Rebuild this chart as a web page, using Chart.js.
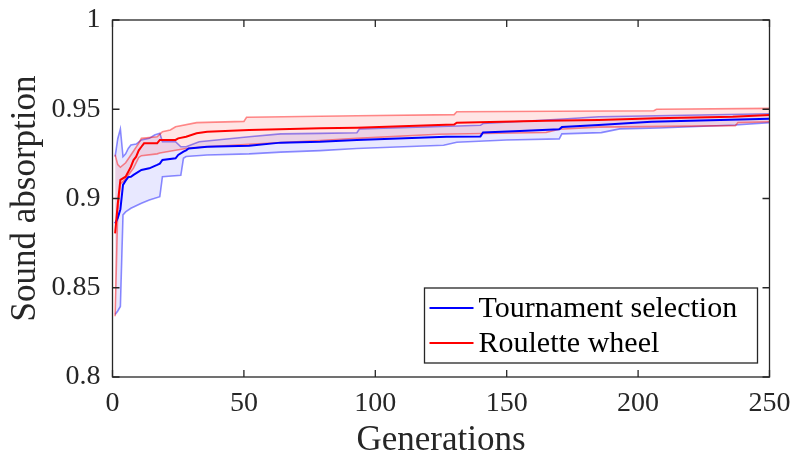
<!DOCTYPE html>
<html>
<head>
<meta charset="utf-8">
<script src="https://cdn.jsdelivr.net/npm/chart.js@4.4.1/dist/chart.umd.min.js"></script>
<style>
  html, body { margin: 0; padding: 0; background: #fff; }
  #wrap { width: 793px; height: 456px; position: relative; }
</style>
</head>
<body>
<div id="wrap"><canvas id="gaChart"></canvas></div>
<script>
// Tournament selection: mean best fitness and its band
const tsGen  = [1, 2, 3, 4, 5, 6, 7, 8, 11, 14, 17, 18, 19, 24, 25, 27, 28, 29, 36, 52, 64, 79, 93, 127, 140, 141, 155, 170, 171, 185, 205, 250];
const tsMean = [0.886, 0.889, 0.894, 0.9076, 0.910, 0.912, 0.9122, 0.9132, 0.916, 0.9169, 0.9188, 0.9195, 0.9216, 0.9225, 0.9244, 0.9262, 0.927, 0.928, 0.929, 0.9296, 0.9313, 0.9318, 0.9328, 0.9346, 0.9348, 0.937, 0.9378, 0.9388, 0.940, 0.9412, 0.943, 0.9447];

const tsUpGen = [1, 2, 3, 4, 5, 6, 7, 9, 11, 14, 16, 18, 19, 24, 26, 28, 33, 52, 64, 79, 93, 94, 128, 140, 141, 170, 185, 250];
const tsUp    = [0.9235, 0.9335, 0.939, 0.9234, 0.925, 0.928, 0.930, 0.9305, 0.9328, 0.9337, 0.9356, 0.9365, 0.9318, 0.9318, 0.929, 0.929, 0.9318, 0.9346, 0.9362, 0.9365, 0.9368, 0.939, 0.9405, 0.941, 0.942, 0.9444, 0.9458, 0.9475];

const tsLoGen = [1, 2, 3, 4, 5, 7, 11, 14, 18, 19, 26, 27, 28, 36, 52, 64, 79, 93, 126, 131, 150, 170, 171, 186, 193, 208, 237, 250];
const tsLo    = [0.835, 0.837, 0.8395, 0.8908, 0.8925, 0.8945, 0.8973, 0.8992, 0.901, 0.9122, 0.913, 0.9225, 0.9235, 0.9244, 0.925, 0.926, 0.9268, 0.928, 0.9298, 0.9315, 0.9328, 0.9334, 0.9362, 0.9369, 0.939, 0.9395, 0.9412, 0.9425];

// Roulette wheel: mean best fitness and its band
const rwGen  = [1, 2, 3, 5, 6, 7, 8, 9, 10, 11, 12, 17, 18, 24, 25, 28, 32, 36, 52, 79, 93, 124, 130, 131, 165, 185, 207, 236, 250];
const rwMean = [0.8805, 0.897, 0.9104, 0.9122, 0.915, 0.9178, 0.9215, 0.9234, 0.927, 0.929, 0.9309, 0.9309, 0.9328, 0.9328, 0.9337, 0.9346, 0.9365, 0.9374, 0.9384, 0.9393, 0.9397, 0.9412, 0.9414, 0.9425, 0.9436, 0.944, 0.9449, 0.9458, 0.9468];

const rwUpGen = [1, 2, 3, 5, 7, 10, 11, 17, 19, 22, 24, 32, 50, 51, 93, 130, 131, 206, 207, 250];
const rwUp    = [0.9245, 0.919, 0.9175, 0.920, 0.9244, 0.931, 0.9337, 0.9346, 0.9374, 0.9384, 0.9402, 0.9425, 0.9432, 0.9455, 0.9464, 0.947, 0.9486, 0.9492, 0.950, 0.9505];

const rwLoGen = [1, 2, 3, 5, 6, 8, 10, 11, 17, 18, 24, 28, 36, 52, 79, 93, 124, 165, 170, 185, 237, 238, 250];
const rwLo    = [0.834, 0.893, 0.908, 0.911, 0.913, 0.917, 0.923, 0.924, 0.925, 0.9255, 0.927, 0.928, 0.929, 0.9304, 0.9324, 0.9337, 0.936, 0.937, 0.9388, 0.940, 0.9408, 0.9425, 0.943];

const xTicks = [0, 50, 100, 150, 200, 250];
const yTicks = [0.8, 0.85, 0.9, 0.95, 1];
const yTickLabels = ['0.8', '0.85', '0.9', '0.95', '1'];
const seriesNames = ['Tournament selection', 'Roulette wheel'];

const AXIS = 'rgb(38,38,38)';
const FONT = "'Liberation Serif', 'Times New Roman', serif";
const TICK = 7;

function pts(xs, ys) {
  return xs.map((x, i) => ({ x: x, y: ys[i] }));
}

// inward ticks on all four sides plus the box
const framePlugin = {
  id: 'frame',
  afterDatasetsDraw(chart) {
    const { ctx, chartArea: a } = chart;
    const sx = chart.scales.x, sy = chart.scales.y;
    ctx.save();
    ctx.strokeStyle = AXIS;
    ctx.lineWidth = 1.3;
    ctx.beginPath();
    xTicks.forEach(v => {
      const px = sx.getPixelForValue(v);
      ctx.moveTo(px, a.bottom); ctx.lineTo(px, a.bottom - TICK);
      ctx.moveTo(px, a.top); ctx.lineTo(px, a.top + TICK);
    });
    yTicks.forEach(v => {
      const py = sy.getPixelForValue(v);
      ctx.moveTo(a.left, py); ctx.lineTo(a.left + TICK, py);
      ctx.moveTo(a.right, py); ctx.lineTo(a.right - TICK, py);
    });
    ctx.stroke();
    ctx.strokeRect(a.left, a.top, a.right - a.left, a.bottom - a.top);
    ctx.restore();
  }
};

// boxed legend in the lower right corner of the axes
const legendBox = {
  id: 'legendBox',
  afterDraw(chart) {
    const { ctx, chartArea: a } = chart;
    const w = 333, h = 75;
    const x0 = a.right - 12 - w, y0 = a.bottom - 14 - h;
    ctx.save();
    ctx.fillStyle = '#fff';
    ctx.fillRect(x0, y0, w, h);
    ctx.strokeStyle = AXIS;
    ctx.lineWidth = 1.3;
    ctx.strokeRect(x0, y0, w, h);
    ctx.font = '30px ' + FONT;
    ctx.textBaseline = 'middle';
    ctx.fillStyle = 'rgb(0,0,0)';
    [0, 1].forEach(i => {
      const ds = chart.data.datasets[i];
      const cy = y0 + 20 + i * 35;
      ctx.strokeStyle = ds.borderColor;
      ctx.lineWidth = 2;
      ctx.beginPath();
      ctx.moveTo(x0 + 5, cy);
      ctx.lineTo(x0 + 49, cy);
      ctx.stroke();
      ctx.fillText(ds.label, x0 + 54, cy + 1);
    });
    ctx.restore();
  }
};

const lineBase = { pointRadius: 0, tension: 0, fill: false };

new Chart(document.getElementById('gaChart'), {
  type: 'line',
  data: {
    datasets: [
      { ...lineBase, label: seriesNames[0], data: pts(tsGen, tsMean), borderColor: 'rgb(0,0,255)', borderWidth: 2, order: 1 },
      { ...lineBase, label: seriesNames[1], data: pts(rwGen, rwMean), borderColor: 'rgb(255,0,0)', borderWidth: 2, order: 0 },
      { ...lineBase, label: 'ts upper', data: pts(tsUpGen, tsUp), borderColor: 'rgba(0,0,255,0.45)', borderWidth: 1.6,
        fill: { target: 3 }, backgroundColor: 'rgba(0,0,255,0.09)', order: 3 },
      { ...lineBase, label: 'ts lower', data: pts(tsLoGen, tsLo), borderColor: 'rgba(0,0,255,0.45)', borderWidth: 1.6, order: 3 },
      { ...lineBase, label: 'rw upper', data: pts(rwUpGen, rwUp), borderColor: 'rgba(255,0,0,0.45)', borderWidth: 1.6,
        fill: { target: 5 }, backgroundColor: 'rgba(255,0,0,0.1)', order: 2 },
      { ...lineBase, label: 'rw lower', data: pts(rwLoGen, rwLo), borderColor: 'rgba(255,0,0,0.45)', borderWidth: 1.6, order: 2 }
    ]
  },
  options: {
    responsive: true,
    maintainAspectRatio: false,
    devicePixelRatio: 1,
    animation: false,
    layout: { padding: { top: 20, right: 23.5, left: 0, bottom: 0 } },
    plugins: {
      legend: { display: false },
      tooltip: { enabled: false }
    },
    scales: {
      x: {
        type: 'linear',
        min: 0,
        max: 250,
        afterFit(scale) {
          scale.height = 79;
          scale.paddingLeft = 0;
          scale.paddingRight = 0;
        },
        afterBuildTicks(scale) { scale.ticks = xTicks.map(v => ({ value: v })); },
        grid: { display: false, drawTicks: false },
        border: { display: false },
        ticks: { color: AXIS, padding: 10, font: { family: FONT, size: 28 } },
        title: { display: true, text: 'Generations', color: AXIS, padding: { top: 0, bottom: -6 }, font: { family: FONT, size: 35 } }
      },
      y: {
        min: 0.8,
        max: 1,
        afterFit(scale) {
          scale.width = 112.5;
          scale.paddingTop = 0;
          scale.paddingBottom = 0;
        },
        afterBuildTicks(scale) { scale.ticks = yTicks.map(v => ({ value: v })); },
        grid: { display: false, drawTicks: false },
        border: { display: false },
        ticks: {
          color: AXIS, padding: 12, font: { family: FONT, size: 28 },
          callback: (value, i) => yTickLabels[i]
        },
        title: { display: true, text: 'Sound absorption', color: AXIS, padding: { top: 5, bottom: 0 }, font: { family: FONT, size: 35 } }
      }
    }
  },
  plugins: [framePlugin, legendBox]
});
</script>
</body>
</html>
